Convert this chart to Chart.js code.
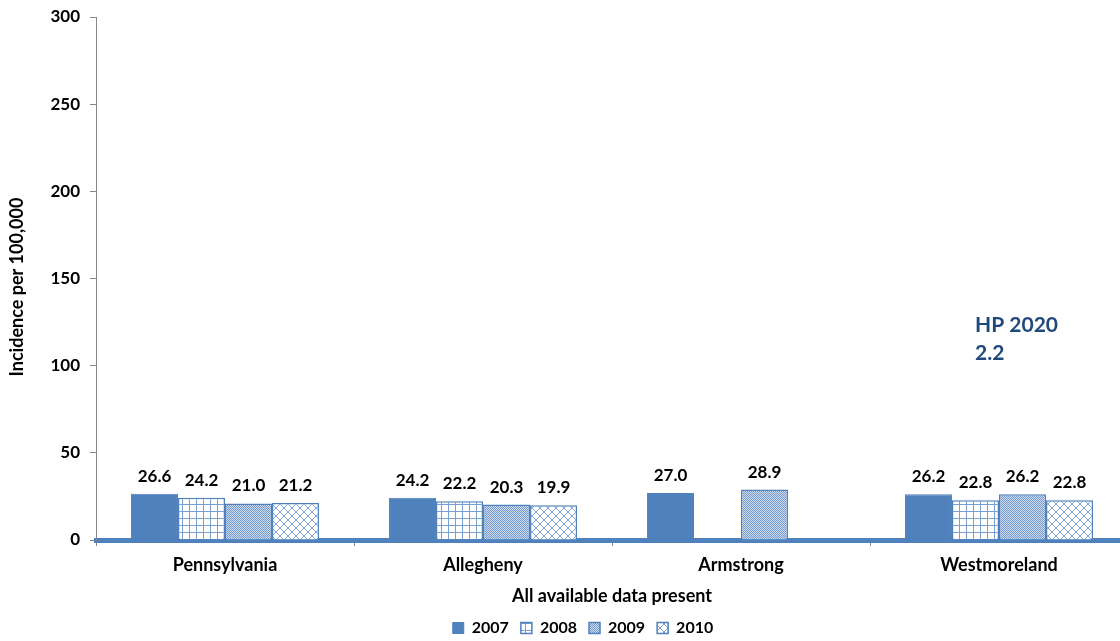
<!DOCTYPE html>
<html lang="en">
<head>
<meta charset="UTF-8">
<title>Incidence per 100,000</title>
<script src="https://cdn.jsdelivr.net/npm/chart.js"></script>
<style>
  html, body { margin: 0; padding: 0; background: #fff; overflow: hidden; }
  #wrap { width: 1120px; height: 641px; overflow: hidden; }
</style>
</head>
<body>
<div id="wrap"><canvas id="myChart" width="1132" height="641"></canvas></div>
<script>
    const areas = ['Pennsylvania', 'Allegheny', 'Armstrong', 'Westmoreland'];
    const years = ['2007', '2008', '2009', '2010'];
    const rates2007 = [26.6, 24.2, 27.0, 26.2];
    const rates2008 = [24.2, 22.2, null, 22.8];
    const rates2009 = [21.0, 20.3, 28.9, 26.2];
    const rates2010 = [21.2, 19.9, null, 22.8];
    const yTicks = [0, 50, 100, 150, 200, 250, 300];
    const hpTarget = 2.2;

    const BLUE = '#4F81BD';
    const FONT = 'Lato';

    // small tiles used as fills for the patterned years
    function makePattern(size, draw) {
        const c = document.createElement('canvas');
        c.width = c.height = size;
        const g = c.getContext('2d');
        g.fillStyle = '#fff';
        g.fillRect(0, 0, size, size);
        draw(g, size);
        return g.createPattern(c, 'repeat');
    }

    const gridFill = makePattern(7, (g, s) => {
        g.fillStyle = '#7A9FD1';
        g.fillRect(0, 0, s, 1);
        g.fillRect(0, 0, 1, s);
    });

    const dotFill = makePattern(2, (g) => {
        g.fillStyle = '#CFDCEF';
        g.fillRect(0, 0, 2, 2);
        g.fillStyle = '#7399CD';
        g.fillRect(0, 0, 1, 1);
        g.fillRect(1, 1, 1, 1);
    });

    const crossFill = makePattern(8, (g, s) => {
        g.strokeStyle = '#7FA3D4';
        g.lineWidth = 1;
        g.beginPath();
        g.moveTo(0, 0); g.lineTo(s, s);
        g.moveTo(s, 0); g.lineTo(0, s);
        g.stroke();
    });

    // value printed above every bar
    const valueLabels = {
        id: 'valueLabels',
        afterDatasetsDraw(chart) {
            const ctx = chart.ctx;
            ctx.save();
            ctx.font = 'bold 17px ' + FONT;
            ctx.fillStyle = '#000';
            ctx.textAlign = 'center';
            ctx.textBaseline = 'alphabetic';
            chart.data.datasets.forEach((ds, i) => {
                chart.getDatasetMeta(i).data.forEach((bar, j) => {
                    const v = ds.data[j];
                    if (v === null || v === undefined) return;
                    ctx.fillText(v.toFixed(1), bar.x, bar.y - 12);
                });
            });
            ctx.restore();
        }
    };

    // rotated y title and the HP 2020 target note
    const extraText = {
        id: 'extraText',
        afterDraw(chart) {
            const ctx = chart.ctx;
            ctx.save();
            ctx.translate(17, 287);
            ctx.rotate(-Math.PI / 2);
            ctx.font = 'bold 18px ' + FONT;
            ctx.fillStyle = '#000';
            ctx.textAlign = 'center';
            ctx.textBaseline = 'middle';
            ctx.fillText('Incidence per 100,000', 0, 0);
            ctx.restore();

            ctx.save();
            ctx.font = 'bold 21px ' + FONT;
            ctx.fillStyle = '#1F497D';
            ctx.textAlign = 'left';
            ctx.textBaseline = 'alphabetic';
            ctx.fillText('HP 2020', 975, 332);
            ctx.fillText(hpTarget.toFixed(1), 975, 360);
            ctx.restore();
        }
    };

    const ctx = document.getElementById('myChart').getContext('2d');

    const myChart = new Chart(ctx, {
        type: 'bar',
        data: {
            labels: areas,
            datasets: [
                { label: years[0], data: rates2007, backgroundColor: BLUE, borderColor: BLUE, borderWidth: 1 },
                { label: years[1], data: rates2008, backgroundColor: gridFill, borderColor: BLUE, borderWidth: 1.5 },
                { label: years[2], data: rates2009, backgroundColor: dotFill, borderColor: BLUE, borderWidth: 1.5 },
                { label: years[3], data: rates2010, backgroundColor: crossFill, borderColor: BLUE, borderWidth: 1.5 }
            ]
        },
        options: {
            responsive: false,
            animation: false,
            devicePixelRatio: 1,
            layout: { padding: { left: 38, right: 4, top: 17, bottom: -5 } },
            datasets: { bar: { barPercentage: 1, categoryPercentage: 0.729 } },
            plugins: {
                tooltip: { enabled: false },
                legend: {
                    position: 'bottom',
                    labels: {
                        font: { family: FONT, size: 16, weight: 'bold' },
                        color: '#000',
                        boxWidth: 11,
                        boxHeight: 11,
                        padding: 12
                    }
                }
            },
            scales: {
                x: {
                    z: 1,
                    grid: { offset: true, drawOnChartArea: false, tickLength: 6, color: '#868686' },
                    border: { color: BLUE, width: 5 },
                    ticks: { font: { family: FONT, size: 18, weight: 'bold' }, color: '#000', padding: 8 },
                    title: {
                        display: true,
                        text: 'All available data present',
                        font: { family: FONT, size: 18, weight: 'bold' },
                        color: '#000',
                        padding: { top: 0, bottom: 1 }
                    },
                    afterFit(scale) { scale.height = 68; }
                },
                y: {
                    min: 0,
                    max: 300,
                    afterBuildTicks(scale) { scale.ticks = yTicks.map(v => ({ value: v })); },
                    grid: { drawOnChartArea: false, tickLength: 6, color: '#868686' },
                    border: { color: '#868686', width: 1 },
                    ticks: { font: { family: FONT, size: 17, weight: 'bold' }, color: '#000', padding: 10 },
                    afterFit(scale) {
                        scale.width = 58;
                        scale.paddingTop = 0;
                        scale.paddingBottom = 0;
                    }
                }
            }
        },
        plugins: [valueLabels, extraText]
    });
</script>
</body>
</html>
